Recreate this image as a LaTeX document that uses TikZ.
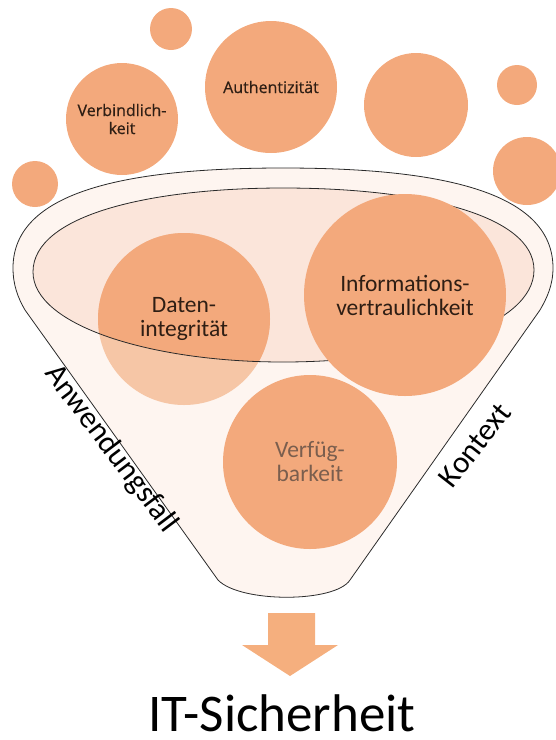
\documentclass[tikz,border=0pt]{standalone}
\usepackage{fontspec}
\setmainfont{Carlito}
\newfontfamily\topfont[FakeBold=0.6]{Open Sans}
\definecolor{bubble}{HTML}{F3A97C}
\definecolor{bubblelight}{HTML}{F6C6A6}
\definecolor{funnelfill}{HTML}{FEF5F0}
\definecolor{innerfill}{HTML}{FBE5DA}
\definecolor{arrowfill}{HTML}{F5AF7E}
\definecolor{txtdark}{HTML}{2E1E14}
\definecolor{txtgray}{HTML}{7A5E4E}
\definecolor{linecol}{HTML}{2A2A2A}
\begin{document}
\begin{tikzpicture}[x=1pt,y=-1pt,
  bub/.style={circle, fill=bubble, draw=none, inner sep=0pt, text=txtdark, align=center},
  outline/.style={draw=linecol, line width=0.8pt},
  sidelbl/.style={font=\fontsize{31}{31}\selectfont, text=black, inner sep=0pt},
  midtxt/.style={font=\fontsize{23.5}{24}\selectfont, align=center, text=txtdark},
  toptxt/.style={font=\topfont\fontsize{16}{18}\selectfont, text=txtdark}
]
\useasboundingbox (0,0) rectangle (556,740);

% funnel body
\path[fill=funnelfill, outline]
  (13,268) .. controls (13,190) and (130,168) .. (283,168)
  .. controls (436,168) and (553,190) .. (553,268)
  .. controls (553,285) and (547,298) .. (540,310)
  -- (350,580)
  .. controls (335,603) and (240,603) .. (218,580)
  -- (25,310)
  .. controls (18,298) and (13,285) .. (13,268) -- cycle;

% inner ellipse fill
\fill[innerfill]
  (33,272) .. controls (33,215) and (150,188) .. (283,188)
  .. controls (420,188) and (534,215) .. (534,270)
  .. controls (534,325) and (420,362) .. (283,362)
  .. controls (150,362) and (33,325) .. (33,272) -- cycle;

% Datenintegritaet circle (lighter outside the ellipse)
\node[bub, fill=bubblelight, minimum size=172pt] (daten) at (184,319) {};
\begin{scope}
  \clip
  (33,272) .. controls (33,215) and (150,188) .. (283,188)
  .. controls (420,188) and (534,215) .. (534,270)
  .. controls (534,325) and (420,362) .. (283,362)
  .. controls (150,362) and (33,325) .. (33,272) -- cycle;
  \fill[bubble] (daten.center) circle[radius=86];
\end{scope}

% inner ellipse outline
\draw[outline]
  (33,272) .. controls (33,215) and (150,188) .. (283,188)
  .. controls (420,188) and (534,215) .. (534,270)
  .. controls (534,325) and (420,362) .. (283,362)
  .. controls (150,362) and (33,325) .. (33,272) -- cycle;

\node[midtxt] (datentxt) at (daten.center) {Daten-\\integrität};

% main circles
\node[bub, minimum size=202pt, midtxt] (info) at (405,295) {Informations-\\vertraulichkeit};
\node[bub, minimum size=174pt, midtxt, text=txtgray] (verf) at (310,462) {Verfüg-\\barkeit};

% top circles
\node[bub, minimum size=42pt] (s1) at (171,29) {};
\node[bub, minimum size=112pt, toptxt] (verb) at (122,119) {Verbindlich-\\keit};
\node[bub, minimum size=132pt, toptxt] (auth) at (271,87) {Authentizität};
\node[bub, minimum size=104pt] (r1) at (416,105) {};
\node[bub, minimum size=40pt] (s2) at (517,85) {};
\node[bub, minimum size=68pt] (r2) at (527,171) {};
\node[bub, minimum size=46pt] (s3) at (35,184) {};

% side labels
\node[sidelbl, rotate=-53] (anw) at (111,449) {Anwendungsfall};
\node[sidelbl, rotate=52] (kon) at (475,445) {Kontext};

% block arrow
\coordinate (a1) at (268,613);
\coordinate (a2) at (315,613);
\coordinate (a3) at (315,645);
\coordinate (a4) at (338,645);
\coordinate (a5) at (290,676);
\coordinate (a6) at (242,645);
\coordinate (a7) at (268,645);
\fill[arrowfill] (a1) -- (a2) -- (a3) -- (a4) -- (a5) -- (a6) -- (a7) -- cycle;

% result
\node[font=\fontsize{53}{53}\selectfont, anchor=base, inner sep=0pt] (res) at (282,731) {IT-Sicherheit};
\end{tikzpicture}
\end{document}
